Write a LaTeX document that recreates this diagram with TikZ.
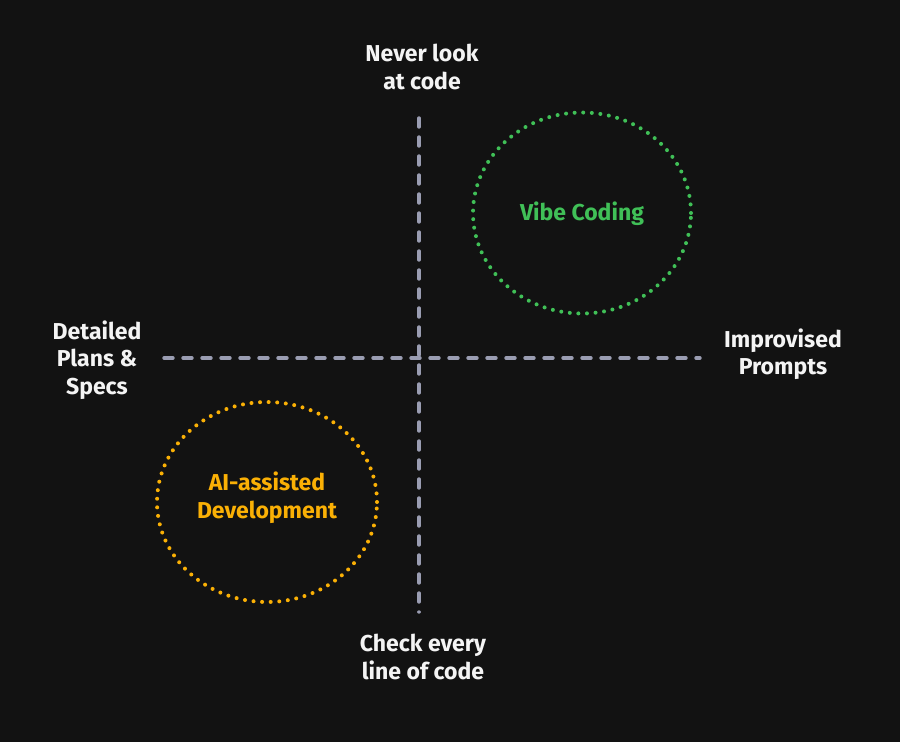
\documentclass[tikz,border=0pt]{standalone}
\usepackage{fontspec}
\setmainfont{Fira Sans}
\usetikzlibrary{shapes.geometric}
\definecolor{bg}{HTML}{121212}
\definecolor{axis}{HTML}{9A9DB2}
\definecolor{vibe}{HTML}{40C057}
\definecolor{aiass}{HTML}{FAB005}
\definecolor{lbl}{HTML}{F4F4F4}
\begin{document}
\begin{tikzpicture}[x=1pt,y=-1pt,
  axisline/.style={draw=axis,line width=3.4pt,line cap=round,dash pattern=on 9pt off 10pt},
  zone/.style={ellipse,line width=4pt,line cap=round,dash pattern=on 0pt off 8.6pt,inner sep=0pt},
  lab/.style={text=lbl,font=\fontsize{23}{27.5}\selectfont\bfseries,align=center,inner sep=0pt},
  zonelab/.style={font=\fontsize{23}{28}\selectfont\bfseries,align=center,inner sep=0pt}]
\fill[bg] (0,0) rectangle (900,742);
\useasboundingbox (0,0) rectangle (900,742);
\coordinate (vtop) at (419,118);
\coordinate (vbot) at (419,612);
\coordinate (hleft) at (164,358);
\coordinate (hright) at (700,358);
\draw[axisline] (vtop) -- (vbot);
\draw[axisline] (hleft) -- (hright);
\node[zone,draw=vibe,minimum width=218pt,minimum height=201pt] (vibec) at (582,213) {};
\node[zone,draw=aiass,minimum width=220pt,minimum height=200pt] (aic) at (267,502) {};
\node[zonelab,text=vibe] (vibet) at (582,214) {Vibe Coding};
\node[zonelab,text=aiass] (ait) at (267,498) {AI-assisted\\Development};
\node[lab] (top) at (422,67) {Never look\\at code};
\node[lab] (bottom) at (423,657) {Check every\\line of code};
\node[lab] (left) at (97,360) {Detailed\\Plans \&\\Specs};
\node[lab] (right) at (783,354) {Improvised\\Prompts};
\end{tikzpicture}
\end{document}
